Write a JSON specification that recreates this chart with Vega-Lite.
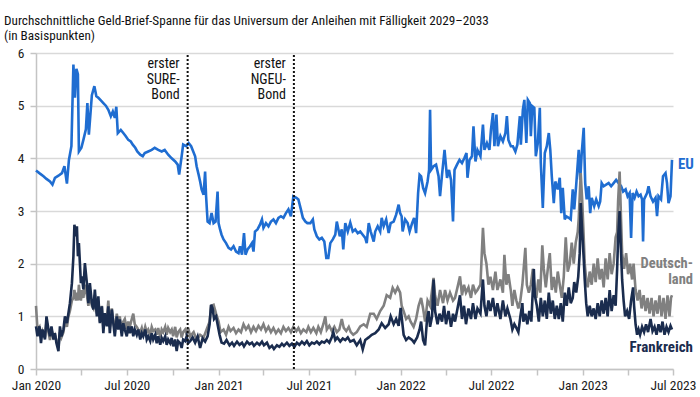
{
"$schema": "https://vega.github.io/schema/vega-lite/v6.json",
"width": 637,
"height": 316,
"autosize": {"type": "none"},
"padding": {"left": 36, "top": 53, "right": 27, "bottom": 28},
"background": "white",
"title": {"text": ["Durchschnittliche Geld-Brief-Spanne für das Universum der Anleihen mit Fälligkeit 2029–2033", "(in Basispunkten)"], "anchor": "start", "frame": "group", "offset": 2.5, "dx": -32, "fontSize": 13.2, "fontWeight": "normal", "lineHeight": 15.5, "color": "#111111", "font": "Roboto Condensed, Liberation Sans Narrow, DejaVu Sans Condensed, sans-serif"},
"config": {"view": {"stroke": null}, "font": "Roboto Condensed, Liberation Sans Narrow, DejaVu Sans Condensed, sans-serif"},
"datasets": {
"eu": [
{"d":"2020-01-01","v":3.77},{"d":"2020-01-09","v":3.71},{"d":"2020-01-16","v":3.66},{"d":"2020-01-22","v":3.61},{"d":"2020-01-29","v":3.56},{"d":"2020-02-03","v":3.50},{"d":"2020-02-08","v":3.63},{"d":"2020-02-15","v":3.67},{"d":"2020-02-22","v":3.72},{"d":"2020-02-27","v":3.85},{"d":"2020-03-03","v":3.52},{"d":"2020-03-07","v":3.97},{"d":"2020-03-12","v":4.23},{"d":"2020-03-16","v":5.78},{"d":"2020-03-19","v":5.15},{"d":"2020-03-22","v":5.70},{"d":"2020-03-25","v":5.60},{"d":"2020-03-27","v":4.13},{"d":"2020-04-01","v":4.20},{"d":"2020-04-05","v":4.35},{"d":"2020-04-10","v":4.55},{"d":"2020-04-13","v":5.05},{"d":"2020-04-16","v":4.45},{"d":"2020-04-22","v":5.20},{"d":"2020-04-27","v":5.37},{"d":"2020-05-01","v":5.18},{"d":"2020-05-05","v":5.15},{"d":"2020-05-10","v":5.10},{"d":"2020-05-15","v":5.05},{"d":"2020-05-20","v":5.00},{"d":"2020-05-25","v":4.92},{"d":"2020-05-30","v":4.80},{"d":"2020-06-03","v":4.89},{"d":"2020-06-07","v":4.77},{"d":"2020-06-10","v":4.98},{"d":"2020-06-13","v":4.48},{"d":"2020-06-19","v":4.54},{"d":"2020-06-24","v":4.48},{"d":"2020-06-29","v":4.42},{"d":"2020-07-04","v":4.35},{"d":"2020-07-09","v":4.32},{"d":"2020-07-13","v":4.26},{"d":"2020-07-18","v":4.20},{"d":"2020-07-22","v":4.13},{"d":"2020-07-28","v":4.07},{"d":"2020-08-02","v":4.04},{"d":"2020-08-06","v":4.10},{"d":"2020-08-13","v":4.13},{"d":"2020-08-20","v":4.16},{"d":"2020-08-26","v":4.20},{"d":"2020-09-02","v":4.16},{"d":"2020-09-09","v":4.13},{"d":"2020-09-15","v":4.16},{"d":"2020-09-22","v":4.07},{"d":"2020-09-29","v":4.00},{"d":"2020-10-06","v":3.94},{"d":"2020-10-11","v":3.88},{"d":"2020-10-14","v":3.69},{"d":"2020-10-19","v":4.04},{"d":"2020-10-22","v":4.26},{"d":"2020-10-28","v":4.23},{"d":"2020-11-02","v":4.29},{"d":"2020-11-07","v":4.23},{"d":"2020-11-10","v":4.16},{"d":"2020-11-15","v":4.04},{"d":"2020-11-18","v":3.85},{"d":"2020-11-22","v":3.69},{"d":"2020-11-25","v":3.56},{"d":"2020-11-28","v":3.41},{"d":"2020-12-02","v":3.31},{"d":"2020-12-05","v":3.75},{"d":"2020-12-07","v":3.28},{"d":"2020-12-10","v":2.80},{"d":"2020-12-14","v":2.77},{"d":"2020-12-18","v":2.96},{"d":"2020-12-22","v":2.77},{"d":"2020-12-26","v":2.80},{"d":"2020-12-30","v":3.37},{"d":"2021-01-01","v":2.77},{"d":"2021-01-04","v":2.65},{"d":"2021-01-07","v":2.55},{"d":"2021-01-11","v":2.46},{"d":"2021-01-16","v":2.39},{"d":"2021-01-21","v":2.30},{"d":"2021-01-26","v":2.27},{"d":"2021-01-31","v":2.33},{"d":"2021-02-05","v":2.23},{"d":"2021-02-10","v":2.20},{"d":"2021-02-13","v":2.33},{"d":"2021-02-17","v":2.17},{"d":"2021-02-21","v":2.58},{"d":"2021-02-24","v":2.17},{"d":"2021-02-28","v":2.27},{"d":"2021-03-05","v":2.33},{"d":"2021-03-09","v":2.39},{"d":"2021-03-12","v":2.23},{"d":"2021-03-15","v":2.61},{"d":"2021-03-20","v":2.65},{"d":"2021-03-25","v":2.74},{"d":"2021-03-29","v":2.84},{"d":"2021-04-01","v":2.68},{"d":"2021-04-06","v":2.77},{"d":"2021-04-11","v":2.71},{"d":"2021-04-16","v":2.80},{"d":"2021-04-21","v":2.84},{"d":"2021-04-26","v":2.77},{"d":"2021-05-01","v":2.87},{"d":"2021-05-06","v":2.90},{"d":"2021-05-11","v":2.87},{"d":"2021-05-16","v":2.96},{"d":"2021-05-21","v":3.03},{"d":"2021-05-26","v":2.90},{"d":"2021-05-31","v":3.28},{"d":"2021-06-06","v":3.25},{"d":"2021-06-10","v":3.22},{"d":"2021-06-15","v":3.03},{"d":"2021-06-19","v":2.87},{"d":"2021-06-24","v":2.80},{"d":"2021-06-28","v":2.77},{"d":"2021-07-04","v":2.77},{"d":"2021-07-09","v":2.84},{"d":"2021-07-12","v":2.65},{"d":"2021-07-17","v":2.52},{"d":"2021-07-22","v":2.46},{"d":"2021-07-27","v":2.49},{"d":"2021-08-01","v":2.42},{"d":"2021-08-05","v":2.11},{"d":"2021-08-09","v":2.11},{"d":"2021-08-13","v":2.39},{"d":"2021-08-18","v":2.46},{"d":"2021-08-23","v":2.55},{"d":"2021-08-26","v":2.80},{"d":"2021-09-01","v":2.52},{"d":"2021-09-05","v":2.65},{"d":"2021-09-08","v":2.27},{"d":"2021-09-12","v":2.77},{"d":"2021-09-17","v":2.61},{"d":"2021-09-22","v":2.78},{"d":"2021-09-27","v":2.61},{"d":"2021-10-02","v":2.65},{"d":"2021-10-07","v":2.58},{"d":"2021-10-12","v":2.61},{"d":"2021-10-17","v":2.55},{"d":"2021-10-22","v":2.49},{"d":"2021-10-25","v":2.39},{"d":"2021-10-29","v":2.77},{"d":"2021-11-02","v":2.61},{"d":"2021-11-08","v":2.42},{"d":"2021-11-11","v":2.61},{"d":"2021-11-16","v":2.71},{"d":"2021-11-21","v":2.61},{"d":"2021-11-24","v":2.87},{"d":"2021-11-28","v":2.71},{"d":"2021-12-03","v":2.84},{"d":"2021-12-08","v":2.58},{"d":"2021-12-12","v":2.77},{"d":"2021-12-18","v":2.80},{"d":"2021-12-23","v":2.93},{"d":"2021-12-28","v":3.12},{"d":"2021-12-31","v":2.96},{"d":"2022-01-03","v":2.90},{"d":"2022-01-05","v":2.61},{"d":"2022-01-10","v":2.84},{"d":"2022-01-15","v":2.77},{"d":"2022-01-19","v":2.61},{"d":"2022-01-24","v":2.77},{"d":"2022-01-28","v":2.87},{"d":"2022-02-01","v":2.58},{"d":"2022-02-05","v":3.34},{"d":"2022-02-08","v":3.69},{"d":"2022-02-11","v":3.66},{"d":"2022-02-15","v":3.44},{"d":"2022-02-19","v":3.34},{"d":"2022-02-24","v":3.56},{"d":"2022-02-27","v":3.78},{"d":"2022-03-01","v":4.92},{"d":"2022-03-03","v":3.78},{"d":"2022-03-08","v":3.85},{"d":"2022-03-13","v":3.88},{"d":"2022-03-18","v":3.66},{"d":"2022-03-21","v":3.28},{"d":"2022-03-25","v":3.69},{"d":"2022-03-30","v":4.16},{"d":"2022-04-04","v":3.63},{"d":"2022-04-08","v":3.78},{"d":"2022-04-12","v":3.59},{"d":"2022-04-16","v":2.80},{"d":"2022-04-19","v":3.78},{"d":"2022-04-24","v":3.88},{"d":"2022-04-29","v":3.97},{"d":"2022-05-04","v":3.91},{"d":"2022-05-09","v":4.01},{"d":"2022-05-13","v":4.10},{"d":"2022-05-15","v":3.63},{"d":"2022-05-19","v":3.97},{"d":"2022-05-24","v":4.04},{"d":"2022-05-27","v":4.61},{"d":"2022-05-31","v":3.94},{"d":"2022-06-04","v":4.16},{"d":"2022-06-10","v":4.04},{"d":"2022-06-15","v":4.64},{"d":"2022-06-18","v":4.16},{"d":"2022-06-23","v":4.29},{"d":"2022-06-28","v":4.16},{"d":"2022-07-01","v":4.54},{"d":"2022-07-05","v":4.86},{"d":"2022-07-08","v":4.23},{"d":"2022-07-12","v":4.83},{"d":"2022-07-15","v":4.23},{"d":"2022-07-20","v":4.42},{"d":"2022-07-25","v":4.32},{"d":"2022-07-30","v":4.48},{"d":"2022-08-02","v":4.80},{"d":"2022-08-05","v":4.35},{"d":"2022-08-10","v":4.23},{"d":"2022-08-14","v":4.23},{"d":"2022-08-19","v":4.13},{"d":"2022-08-23","v":4.26},{"d":"2022-08-28","v":4.80},{"d":"2022-08-30","v":4.26},{"d":"2022-09-03","v":4.92},{"d":"2022-09-06","v":5.11},{"d":"2022-09-10","v":4.29},{"d":"2022-09-13","v":5.11},{"d":"2022-09-17","v":5.05},{"d":"2022-09-19","v":4.42},{"d":"2022-09-22","v":4.99},{"d":"2022-09-26","v":4.96},{"d":"2022-09-29","v":4.04},{"d":"2022-10-03","v":4.29},{"d":"2022-10-07","v":4.96},{"d":"2022-10-09","v":3.91},{"d":"2022-10-13","v":3.06},{"d":"2022-10-17","v":4.10},{"d":"2022-10-21","v":4.23},{"d":"2022-10-25","v":4.48},{"d":"2022-10-28","v":4.16},{"d":"2022-10-31","v":3.66},{"d":"2022-11-04","v":3.15},{"d":"2022-11-07","v":3.56},{"d":"2022-11-12","v":3.41},{"d":"2022-11-16","v":3.63},{"d":"2022-11-19","v":2.96},{"d":"2022-11-22","v":3.44},{"d":"2022-11-26","v":2.84},{"d":"2022-11-29","v":2.90},{"d":"2022-12-04","v":2.87},{"d":"2022-12-08","v":2.84},{"d":"2022-12-12","v":3.41},{"d":"2022-12-15","v":3.03},{"d":"2022-12-19","v":3.50},{"d":"2022-12-24","v":4.16},{"d":"2022-12-27","v":3.59},{"d":"2022-12-30","v":4.10},{"d":"2023-01-03","v":4.58},{"d":"2023-01-06","v":3.53},{"d":"2023-01-09","v":3.22},{"d":"2023-01-13","v":3.47},{"d":"2023-01-16","v":2.96},{"d":"2023-01-19","v":3.25},{"d":"2023-01-24","v":3.09},{"d":"2023-01-28","v":3.22},{"d":"2023-02-02","v":3.09},{"d":"2023-02-05","v":3.18},{"d":"2023-02-08","v":3.53},{"d":"2023-02-12","v":3.47},{"d":"2023-02-17","v":3.50},{"d":"2023-02-22","v":3.53},{"d":"2023-02-27","v":3.47},{"d":"2023-03-04","v":3.53},{"d":"2023-03-09","v":3.59},{"d":"2023-03-14","v":3.53},{"d":"2023-03-19","v":3.47},{"d":"2023-03-23","v":3.37},{"d":"2023-03-28","v":3.41},{"d":"2023-04-01","v":3.28},{"d":"2023-04-05","v":3.34},{"d":"2023-04-08","v":2.49},{"d":"2023-04-11","v":3.34},{"d":"2023-04-15","v":3.25},{"d":"2023-04-19","v":3.37},{"d":"2023-04-23","v":3.28},{"d":"2023-04-27","v":3.31},{"d":"2023-04-30","v":3.22},{"d":"2023-05-02","v":2.42},{"d":"2023-05-04","v":3.22},{"d":"2023-05-10","v":3.34},{"d":"2023-05-13","v":3.47},{"d":"2023-05-17","v":3.28},{"d":"2023-05-22","v":3.18},{"d":"2023-05-27","v":3.25},{"d":"2023-05-30","v":2.90},{"d":"2023-06-02","v":3.28},{"d":"2023-06-07","v":3.22},{"d":"2023-06-11","v":3.66},{"d":"2023-06-16","v":3.72},{"d":"2023-06-19","v":3.53},{"d":"2023-06-22","v":3.15},{"d":"2023-06-26","v":3.28},{"d":"2023-06-29","v":3.97}
],
"de": [
{"d":"2020-01-01","v":1.20},{"d":"2020-01-04","v":0.75},{"d":"2020-01-08","v":0.80},{"d":"2020-01-11","v":0.60},{"d":"2020-01-14","v":0.72},{"d":"2020-01-19","v":0.60},{"d":"2020-01-22","v":0.90},{"d":"2020-01-26","v":0.70},{"d":"2020-01-29","v":0.55},{"d":"2020-02-01","v":0.75},{"d":"2020-02-05","v":0.60},{"d":"2020-02-08","v":0.65},{"d":"2020-02-11","v":0.55},{"d":"2020-02-15","v":0.40},{"d":"2020-02-18","v":0.70},{"d":"2020-02-21","v":0.60},{"d":"2020-02-25","v":0.70},{"d":"2020-02-28","v":0.90},{"d":"2020-03-03","v":0.80},{"d":"2020-03-06","v":1.00},{"d":"2020-03-09","v":1.10},{"d":"2020-03-13","v":1.30},{"d":"2020-03-16","v":1.35},{"d":"2020-03-18","v":1.50},{"d":"2020-03-21","v":1.30},{"d":"2020-03-23","v":1.45},{"d":"2020-03-25","v":1.30},{"d":"2020-03-27","v":1.60},{"d":"2020-03-29","v":1.40},{"d":"2020-03-31","v":1.30},{"d":"2020-04-02","v":1.50},{"d":"2020-04-05","v":1.35},{"d":"2020-04-08","v":1.60},{"d":"2020-04-12","v":1.40},{"d":"2020-04-15","v":1.20},{"d":"2020-04-18","v":1.45},{"d":"2020-04-22","v":1.20},{"d":"2020-04-25","v":1.15},{"d":"2020-04-28","v":1.40},{"d":"2020-05-02","v":1.05},{"d":"2020-05-05","v":1.30},{"d":"2020-05-08","v":0.90},{"d":"2020-05-12","v":1.20},{"d":"2020-05-15","v":0.80},{"d":"2020-05-18","v":1.00},{"d":"2020-05-22","v":0.95},{"d":"2020-05-25","v":1.30},{"d":"2020-05-28","v":0.80},{"d":"2020-06-01","v":1.15},{"d":"2020-06-04","v":0.90},{"d":"2020-06-07","v":0.75},{"d":"2020-06-11","v":1.05},{"d":"2020-06-14","v":0.85},{"d":"2020-06-17","v":1.00},{"d":"2020-06-21","v":0.70},{"d":"2020-06-24","v":0.90},{"d":"2020-06-27","v":0.95},{"d":"2020-07-01","v":0.75},{"d":"2020-07-04","v":0.90},{"d":"2020-07-07","v":0.80},{"d":"2020-07-11","v":0.95},{"d":"2020-07-14","v":1.05},{"d":"2020-07-17","v":0.85},{"d":"2020-07-21","v":0.80},{"d":"2020-07-24","v":0.75},{"d":"2020-07-28","v":0.70},{"d":"2020-07-31","v":0.78},{"d":"2020-08-03","v":0.65},{"d":"2020-08-07","v":0.80},{"d":"2020-08-10","v":0.70},{"d":"2020-08-13","v":0.75},{"d":"2020-08-17","v":0.65},{"d":"2020-08-20","v":0.80},{"d":"2020-08-23","v":0.72},{"d":"2020-08-27","v":0.75},{"d":"2020-08-30","v":0.65},{"d":"2020-09-02","v":0.78},{"d":"2020-09-06","v":0.60},{"d":"2020-09-09","v":0.75},{"d":"2020-09-12","v":0.70},{"d":"2020-09-16","v":0.80},{"d":"2020-09-19","v":0.65},{"d":"2020-09-22","v":0.78},{"d":"2020-09-26","v":0.70},{"d":"2020-09-29","v":0.75},{"d":"2020-10-02","v":0.62},{"d":"2020-10-06","v":0.80},{"d":"2020-10-09","v":0.60},{"d":"2020-10-12","v":0.70},{"d":"2020-10-16","v":0.75},{"d":"2020-10-19","v":0.60},{"d":"2020-10-22","v":0.70},{"d":"2020-10-26","v":0.75},{"d":"2020-10-29","v":0.65},{"d":"2020-11-01","v":0.78},{"d":"2020-11-05","v":0.62},{"d":"2020-11-12","v":0.70},{"d":"2020-11-18","v":0.55},{"d":"2020-11-25","v":0.65},{"d":"2020-12-02","v":0.60},{"d":"2020-12-08","v":0.75},{"d":"2020-12-14","v":0.90},{"d":"2020-12-17","v":1.20},{"d":"2020-12-22","v":1.22},{"d":"2020-12-27","v":1.05},{"d":"2021-01-01","v":0.90},{"d":"2021-01-05","v":0.70},{"d":"2021-01-11","v":0.75},{"d":"2021-01-16","v":0.65},{"d":"2021-01-21","v":0.80},{"d":"2021-01-25","v":0.72},{"d":"2021-01-31","v":0.78},{"d":"2021-02-05","v":0.68},{"d":"2021-02-10","v":0.75},{"d":"2021-02-15","v":0.70},{"d":"2021-02-20","v":0.85},{"d":"2021-02-25","v":0.75},{"d":"2021-03-02","v":0.82},{"d":"2021-03-07","v":0.70},{"d":"2021-03-12","v":0.80},{"d":"2021-03-17","v":0.72},{"d":"2021-03-22","v":0.82},{"d":"2021-03-27","v":0.75},{"d":"2021-04-01","v":0.85},{"d":"2021-04-06","v":0.72},{"d":"2021-04-11","v":0.80},{"d":"2021-04-16","v":0.70},{"d":"2021-04-21","v":0.78},{"d":"2021-04-26","v":0.68},{"d":"2021-05-01","v":0.75},{"d":"2021-05-06","v":0.68},{"d":"2021-05-11","v":0.80},{"d":"2021-05-16","v":0.72},{"d":"2021-05-21","v":0.78},{"d":"2021-05-26","v":0.70},{"d":"2021-05-31","v":0.80},{"d":"2021-06-06","v":0.72},{"d":"2021-06-10","v":0.78},{"d":"2021-06-15","v":0.68},{"d":"2021-06-20","v":0.75},{"d":"2021-06-26","v":0.70},{"d":"2021-06-30","v":0.80},{"d":"2021-07-05","v":0.70},{"d":"2021-07-10","v":0.78},{"d":"2021-07-16","v":0.68},{"d":"2021-07-20","v":0.80},{"d":"2021-07-25","v":0.70},{"d":"2021-07-30","v":0.85},{"d":"2021-08-03","v":1.00},{"d":"2021-08-06","v":0.75},{"d":"2021-08-11","v":0.82},{"d":"2021-08-16","v":0.72},{"d":"2021-08-21","v":0.80},{"d":"2021-08-26","v":0.70},{"d":"2021-08-31","v":0.75},{"d":"2021-09-05","v":0.95},{"d":"2021-09-09","v":0.78},{"d":"2021-09-14","v":0.72},{"d":"2021-09-19","v":0.80},{"d":"2021-09-23","v":0.70},{"d":"2021-09-28","v":0.65},{"d":"2021-10-05","v":0.70},{"d":"2021-10-12","v":0.81},{"d":"2021-10-19","v":0.85},{"d":"2021-10-25","v":0.80},{"d":"2021-11-01","v":1.05},{"d":"2021-11-08","v":1.05},{"d":"2021-11-14","v":0.95},{"d":"2021-11-21","v":1.10},{"d":"2021-11-28","v":1.20},{"d":"2021-12-04","v":1.40},{"d":"2021-12-11","v":1.35},{"d":"2021-12-16","v":1.54},{"d":"2021-12-21","v":1.45},{"d":"2021-12-26","v":1.55},{"d":"2021-12-31","v":1.45},{"d":"2022-01-03","v":1.20},{"d":"2022-01-07","v":1.10},{"d":"2022-01-12","v":0.95},{"d":"2022-01-17","v":1.00},{"d":"2022-01-21","v":0.90},{"d":"2022-01-27","v":0.80},{"d":"2022-02-01","v":0.95},{"d":"2022-02-06","v":1.20},{"d":"2022-02-11","v":1.35},{"d":"2022-02-15","v":1.15},{"d":"2022-02-19","v":0.90},{"d":"2022-02-24","v":1.30},{"d":"2022-03-01","v":1.20},{"d":"2022-03-08","v":1.73},{"d":"2022-03-11","v":1.40},{"d":"2022-03-16","v":1.20},{"d":"2022-03-21","v":1.50},{"d":"2022-03-27","v":1.25},{"d":"2022-03-31","v":1.50},{"d":"2022-04-05","v":1.30},{"d":"2022-04-10","v":1.45},{"d":"2022-04-16","v":1.30},{"d":"2022-04-20","v":1.35},{"d":"2022-04-25","v":1.55},{"d":"2022-04-30","v":1.76},{"d":"2022-05-04","v":1.40},{"d":"2022-05-08","v":1.60},{"d":"2022-05-12","v":1.45},{"d":"2022-05-17","v":1.55},{"d":"2022-05-22","v":1.35},{"d":"2022-05-26","v":1.60},{"d":"2022-05-31","v":1.45},{"d":"2022-06-04","v":1.50},{"d":"2022-06-10","v":1.60},{"d":"2022-06-15","v":2.68},{"d":"2022-06-18","v":2.20},{"d":"2022-06-22","v":2.00},{"d":"2022-06-26","v":1.60},{"d":"2022-06-30","v":1.75},{"d":"2022-07-05","v":1.50},{"d":"2022-07-10","v":1.85},{"d":"2022-07-14","v":1.50},{"d":"2022-07-20","v":1.70},{"d":"2022-07-25","v":1.45},{"d":"2022-07-28","v":2.17},{"d":"2022-08-01","v":1.60},{"d":"2022-08-05","v":1.80},{"d":"2022-08-10","v":1.48},{"d":"2022-08-13","v":1.20},{"d":"2022-08-17","v":1.50},{"d":"2022-08-21","v":1.30},{"d":"2022-08-25","v":1.15},{"d":"2022-08-29","v":1.30},{"d":"2022-09-02","v":1.60},{"d":"2022-09-08","v":2.30},{"d":"2022-09-11","v":1.60},{"d":"2022-09-15","v":1.45},{"d":"2022-09-19","v":1.60},{"d":"2022-09-23","v":1.90},{"d":"2022-09-26","v":1.55},{"d":"2022-09-30","v":1.35},{"d":"2022-10-04","v":1.70},{"d":"2022-10-08","v":1.45},{"d":"2022-10-12","v":2.35},{"d":"2022-10-15","v":1.90},{"d":"2022-10-19","v":1.55},{"d":"2022-10-23","v":1.90},{"d":"2022-10-27","v":2.20},{"d":"2022-10-31","v":1.50},{"d":"2022-11-04","v":1.75},{"d":"2022-11-08","v":1.45},{"d":"2022-11-12","v":1.85},{"d":"2022-11-16","v":1.60},{"d":"2022-11-20","v":1.35},{"d":"2022-11-24","v":1.75},{"d":"2022-11-28","v":2.50},{"d":"2022-12-02","v":1.85},{"d":"2022-12-06","v":2.00},{"d":"2022-12-10","v":2.40},{"d":"2022-12-14","v":2.00},{"d":"2022-12-18","v":2.40},{"d":"2022-12-22","v":2.60},{"d":"2022-12-24","v":2.85},{"d":"2022-12-28","v":3.72},{"d":"2022-12-31","v":3.20},{"d":"2023-01-03","v":2.50},{"d":"2023-01-05","v":2.00},{"d":"2023-01-08","v":1.70},{"d":"2023-01-11","v":1.55},{"d":"2023-01-15","v":1.85},{"d":"2023-01-19","v":1.60},{"d":"2023-01-23","v":2.00},{"d":"2023-01-27","v":1.65},{"d":"2023-01-31","v":2.10},{"d":"2023-02-04","v":1.70},{"d":"2023-02-08","v":1.90},{"d":"2023-02-12","v":1.55},{"d":"2023-02-16","v":2.10},{"d":"2023-02-20","v":1.70},{"d":"2023-02-24","v":2.20},{"d":"2023-02-28","v":1.80},{"d":"2023-03-04","v":2.00},{"d":"2023-03-08","v":2.50},{"d":"2023-03-11","v":2.60},{"d":"2023-03-13","v":3.20},{"d":"2023-03-16","v":3.75},{"d":"2023-03-19","v":2.80},{"d":"2023-03-21","v":2.20},{"d":"2023-03-25","v":1.90},{"d":"2023-03-29","v":2.20},{"d":"2023-04-02","v":1.80},{"d":"2023-04-06","v":2.00},{"d":"2023-04-10","v":1.70},{"d":"2023-04-13","v":2.00},{"d":"2023-04-17","v":1.50},{"d":"2023-04-21","v":1.30},{"d":"2023-04-25","v":1.50},{"d":"2023-04-29","v":1.15},{"d":"2023-05-03","v":1.40},{"d":"2023-05-07","v":1.10},{"d":"2023-05-11","v":1.35},{"d":"2023-05-15","v":1.05},{"d":"2023-05-19","v":1.35},{"d":"2023-05-23","v":1.00},{"d":"2023-05-27","v":1.30},{"d":"2023-05-31","v":1.05},{"d":"2023-06-04","v":1.40},{"d":"2023-06-08","v":1.00},{"d":"2023-06-12","v":1.35},{"d":"2023-06-16","v":0.95},{"d":"2023-06-20","v":1.40},{"d":"2023-06-24","v":1.00},{"d":"2023-06-27","v":1.35},{"d":"2023-06-29","v":1.40}
],
"fr": [
{"d":"2020-01-01","v":0.81},{"d":"2020-01-04","v":0.62},{"d":"2020-01-08","v":0.81},{"d":"2020-01-11","v":0.49},{"d":"2020-01-14","v":0.75},{"d":"2020-01-19","v":0.56},{"d":"2020-01-22","v":1.00},{"d":"2020-01-26","v":0.75},{"d":"2020-01-29","v":0.62},{"d":"2020-02-01","v":0.81},{"d":"2020-02-05","v":0.56},{"d":"2020-02-08","v":0.68},{"d":"2020-02-11","v":0.49},{"d":"2020-02-15","v":0.34},{"d":"2020-02-18","v":0.81},{"d":"2020-02-21","v":0.62},{"d":"2020-02-25","v":0.75},{"d":"2020-02-28","v":1.00},{"d":"2020-03-03","v":0.87},{"d":"2020-03-06","v":1.06},{"d":"2020-03-09","v":1.25},{"d":"2020-03-13","v":1.63},{"d":"2020-03-16","v":2.14},{"d":"2020-03-18","v":2.74},{"d":"2020-03-21","v":2.52},{"d":"2020-03-23","v":2.71},{"d":"2020-03-25","v":2.14},{"d":"2020-03-27","v":2.39},{"d":"2020-03-29","v":2.01},{"d":"2020-03-31","v":1.63},{"d":"2020-04-02","v":1.76},{"d":"2020-04-05","v":1.51},{"d":"2020-04-08","v":2.01},{"d":"2020-04-12","v":1.63},{"d":"2020-04-15","v":1.25},{"d":"2020-04-18","v":1.63},{"d":"2020-04-22","v":1.25},{"d":"2020-04-25","v":1.13},{"d":"2020-04-28","v":1.51},{"d":"2020-05-02","v":1.00},{"d":"2020-05-05","v":1.38},{"d":"2020-05-08","v":0.87},{"d":"2020-05-12","v":1.19},{"d":"2020-05-15","v":0.68},{"d":"2020-05-18","v":1.06},{"d":"2020-05-22","v":0.81},{"d":"2020-05-25","v":1.19},{"d":"2020-05-28","v":0.68},{"d":"2020-06-01","v":1.13},{"d":"2020-06-04","v":0.87},{"d":"2020-06-07","v":0.62},{"d":"2020-06-11","v":1.00},{"d":"2020-06-14","v":0.75},{"d":"2020-06-17","v":0.94},{"d":"2020-06-21","v":0.62},{"d":"2020-06-24","v":0.87},{"d":"2020-06-27","v":0.75},{"d":"2020-07-01","v":0.62},{"d":"2020-07-04","v":0.81},{"d":"2020-07-07","v":0.68},{"d":"2020-07-11","v":0.81},{"d":"2020-07-14","v":0.62},{"d":"2020-07-17","v":0.75},{"d":"2020-07-21","v":0.65},{"d":"2020-07-24","v":0.75},{"d":"2020-07-28","v":0.56},{"d":"2020-07-31","v":0.68},{"d":"2020-08-03","v":0.62},{"d":"2020-08-07","v":0.75},{"d":"2020-08-10","v":0.56},{"d":"2020-08-13","v":0.62},{"d":"2020-08-17","v":0.53},{"d":"2020-08-20","v":0.68},{"d":"2020-08-23","v":0.56},{"d":"2020-08-27","v":0.65},{"d":"2020-08-30","v":0.49},{"d":"2020-09-02","v":0.62},{"d":"2020-09-06","v":0.46},{"d":"2020-09-09","v":0.59},{"d":"2020-09-12","v":0.53},{"d":"2020-09-16","v":0.62},{"d":"2020-09-19","v":0.46},{"d":"2020-09-22","v":0.56},{"d":"2020-09-26","v":0.49},{"d":"2020-09-29","v":0.59},{"d":"2020-10-02","v":0.43},{"d":"2020-10-06","v":0.56},{"d":"2020-10-09","v":0.34},{"d":"2020-10-12","v":0.53},{"d":"2020-10-16","v":0.49},{"d":"2020-10-19","v":0.40},{"d":"2020-10-22","v":0.56},{"d":"2020-10-26","v":0.53},{"d":"2020-10-29","v":0.62},{"d":"2020-11-01","v":0.49},{"d":"2020-11-05","v":0.53},{"d":"2020-11-10","v":0.60},{"d":"2020-11-15","v":0.50},{"d":"2020-11-20","v":0.62},{"d":"2020-11-25","v":0.40},{"d":"2020-11-30","v":0.58},{"d":"2020-12-05","v":0.52},{"d":"2020-12-10","v":0.62},{"d":"2020-12-14","v":0.85},{"d":"2020-12-17","v":1.22},{"d":"2020-12-20","v":1.15},{"d":"2020-12-23","v":0.95},{"d":"2020-12-27","v":1.00},{"d":"2020-12-30","v":0.85},{"d":"2021-01-03","v":0.65},{"d":"2021-01-07","v":0.50},{"d":"2021-01-12","v":0.48},{"d":"2021-01-17","v":0.55},{"d":"2021-01-23","v":0.45},{"d":"2021-01-28","v":0.50},{"d":"2021-02-01","v":0.44},{"d":"2021-02-07","v":0.52},{"d":"2021-02-12","v":0.46},{"d":"2021-02-17","v":0.50},{"d":"2021-02-21","v":0.43},{"d":"2021-02-27","v":0.52},{"d":"2021-03-04","v":0.47},{"d":"2021-03-09","v":0.50},{"d":"2021-03-13","v":0.44},{"d":"2021-03-19","v":0.50},{"d":"2021-03-24","v":0.46},{"d":"2021-03-29","v":0.52},{"d":"2021-04-02","v":0.45},{"d":"2021-04-08","v":0.50},{"d":"2021-04-13","v":0.40},{"d":"2021-04-18","v":0.44},{"d":"2021-04-22","v":0.38},{"d":"2021-04-28","v":0.45},{"d":"2021-05-03","v":0.42},{"d":"2021-05-08","v":0.48},{"d":"2021-05-12","v":0.44},{"d":"2021-05-18","v":0.50},{"d":"2021-05-23","v":0.44},{"d":"2021-05-28","v":0.48},{"d":"2021-06-02","v":0.42},{"d":"2021-06-07","v":0.50},{"d":"2021-06-12","v":0.46},{"d":"2021-06-17","v":0.52},{"d":"2021-06-22","v":0.47},{"d":"2021-06-27","v":0.53},{"d":"2021-07-02","v":0.45},{"d":"2021-07-07","v":0.50},{"d":"2021-07-12","v":0.48},{"d":"2021-07-17","v":0.52},{"d":"2021-07-22","v":0.47},{"d":"2021-07-27","v":0.52},{"d":"2021-08-01","v":0.50},{"d":"2021-08-06","v":0.55},{"d":"2021-08-11","v":0.50},{"d":"2021-08-16","v":0.60},{"d":"2021-08-19","v":0.70},{"d":"2021-08-23","v":0.55},{"d":"2021-08-27","v":0.60},{"d":"2021-09-02","v":0.52},{"d":"2021-09-07","v":0.58},{"d":"2021-09-12","v":0.55},{"d":"2021-09-17","v":0.60},{"d":"2021-09-22","v":0.52},{"d":"2021-09-29","v":0.55},{"d":"2021-10-05","v":0.45},{"d":"2021-10-12","v":0.55},{"d":"2021-10-17","v":0.37},{"d":"2021-10-22","v":0.55},{"d":"2021-10-29","v":0.60},{"d":"2021-11-04","v":0.65},{"d":"2021-11-11","v":0.68},{"d":"2021-11-18","v":0.75},{"d":"2021-11-24","v":0.87},{"d":"2021-12-01","v":0.78},{"d":"2021-12-08","v":0.85},{"d":"2021-12-12","v":1.00},{"d":"2021-12-18","v":0.85},{"d":"2021-12-23","v":0.95},{"d":"2021-12-28","v":0.82},{"d":"2022-01-01","v":1.16},{"d":"2022-01-07","v":0.65},{"d":"2022-01-12","v":0.55},{"d":"2022-01-17","v":0.60},{"d":"2022-01-24","v":0.55},{"d":"2022-01-28","v":0.50},{"d":"2022-02-03","v":0.60},{"d":"2022-02-08","v":0.75},{"d":"2022-02-11","v":0.90},{"d":"2022-02-15","v":0.55},{"d":"2022-02-19","v":0.45},{"d":"2022-02-23","v":0.95},{"d":"2022-02-26","v":1.10},{"d":"2022-03-01","v":0.80},{"d":"2022-03-05","v":1.00},{"d":"2022-03-08","v":1.70},{"d":"2022-03-11","v":1.10},{"d":"2022-03-16","v":0.85},{"d":"2022-03-20","v":1.05},{"d":"2022-03-25","v":0.90},{"d":"2022-03-29","v":1.20},{"d":"2022-04-02","v":0.85},{"d":"2022-04-07","v":1.10},{"d":"2022-04-12","v":0.80},{"d":"2022-04-16","v":1.05},{"d":"2022-04-20","v":0.90},{"d":"2022-04-25","v":1.15},{"d":"2022-04-30","v":1.40},{"d":"2022-05-04","v":0.95},{"d":"2022-05-08","v":1.20},{"d":"2022-05-12","v":0.85},{"d":"2022-05-17","v":1.15},{"d":"2022-05-22","v":0.95},{"d":"2022-05-26","v":1.25},{"d":"2022-05-31","v":0.95},{"d":"2022-06-04","v":1.15},{"d":"2022-06-10","v":1.05},{"d":"2022-06-15","v":1.70},{"d":"2022-06-18","v":1.20},{"d":"2022-06-22","v":1.00},{"d":"2022-06-26","v":1.30},{"d":"2022-06-30","v":1.10},{"d":"2022-07-05","v":1.35},{"d":"2022-07-10","v":1.00},{"d":"2022-07-14","v":1.25},{"d":"2022-07-20","v":0.95},{"d":"2022-07-25","v":1.30},{"d":"2022-07-30","v":1.00},{"d":"2022-08-03","v":1.15},{"d":"2022-08-09","v":0.95},{"d":"2022-08-13","v":0.75},{"d":"2022-08-17","v":0.85},{"d":"2022-08-21","v":0.78},{"d":"2022-08-25","v":0.70},{"d":"2022-08-29","v":1.00},{"d":"2022-09-02","v":1.25},{"d":"2022-09-04","v":0.90},{"d":"2022-09-08","v":1.05},{"d":"2022-09-12","v":0.85},{"d":"2022-09-16","v":1.10},{"d":"2022-09-20","v":0.90},{"d":"2022-09-25","v":1.90},{"d":"2022-09-27","v":1.40},{"d":"2022-10-01","v":1.20},{"d":"2022-10-05","v":0.90},{"d":"2022-10-09","v":1.35},{"d":"2022-10-13","v":1.00},{"d":"2022-10-17","v":1.30},{"d":"2022-10-21","v":0.95},{"d":"2022-10-25","v":1.45},{"d":"2022-10-29","v":1.05},{"d":"2022-11-02","v":1.30},{"d":"2022-11-06","v":0.95},{"d":"2022-11-10","v":1.20},{"d":"2022-11-14","v":0.95},{"d":"2022-11-18","v":1.25},{"d":"2022-11-22","v":0.90},{"d":"2022-11-26","v":1.45},{"d":"2022-11-30","v":1.20},{"d":"2022-12-04","v":1.55},{"d":"2022-12-08","v":1.25},{"d":"2022-12-12","v":1.35},{"d":"2022-12-15","v":1.65},{"d":"2022-12-19","v":1.45},{"d":"2022-12-23","v":1.75},{"d":"2022-12-26","v":2.20},{"d":"2022-12-28","v":3.15},{"d":"2022-12-31","v":2.60},{"d":"2023-01-03","v":2.10},{"d":"2023-01-05","v":1.70},{"d":"2023-01-08","v":1.25},{"d":"2023-01-11","v":1.00},{"d":"2023-01-15","v":1.20},{"d":"2023-01-19","v":1.00},{"d":"2023-01-23","v":1.15},{"d":"2023-01-27","v":0.95},{"d":"2023-01-31","v":1.25},{"d":"2023-02-04","v":1.00},{"d":"2023-02-08","v":1.30},{"d":"2023-02-12","v":1.05},{"d":"2023-02-16","v":1.35},{"d":"2023-02-20","v":1.00},{"d":"2023-02-24","v":1.50},{"d":"2023-02-28","v":1.10},{"d":"2023-03-04","v":1.40},{"d":"2023-03-08","v":1.20},{"d":"2023-03-11","v":1.90},{"d":"2023-03-13","v":2.50},{"d":"2023-03-16","v":3.00},{"d":"2023-03-18","v":2.40},{"d":"2023-03-21","v":1.70},{"d":"2023-03-24","v":1.30},{"d":"2023-03-27","v":1.00},{"d":"2023-03-31","v":1.10},{"d":"2023-04-04","v":0.95},{"d":"2023-04-08","v":1.30},{"d":"2023-04-12","v":1.55},{"d":"2023-04-14","v":1.20},{"d":"2023-04-17","v":0.85},{"d":"2023-04-20","v":0.65},{"d":"2023-04-23","v":0.75},{"d":"2023-04-26","v":0.65},{"d":"2023-04-30","v":0.80},{"d":"2023-05-04","v":0.70},{"d":"2023-05-08","v":0.85},{"d":"2023-05-12","v":0.70},{"d":"2023-05-17","v":0.95},{"d":"2023-05-21","v":0.72},{"d":"2023-05-25","v":0.80},{"d":"2023-05-29","v":0.65},{"d":"2023-06-02","v":0.85},{"d":"2023-06-06","v":0.70},{"d":"2023-06-10","v":0.90},{"d":"2023-06-14","v":0.65},{"d":"2023-06-18","v":0.80},{"d":"2023-06-22","v":0.70},{"d":"2023-06-26","v":0.82},{"d":"2023-06-29","v":0.75}
]
},
"layer": [
{"data": {"name": "eu"}, "mark": {"type": "line", "color": "#1f6dd1", "strokeWidth": 2.6},
 "encoding": {
  "x": {"field": "d", "type": "temporal", "title": null,
        "scale": {"domain": [{"year": 2020, "month": 1, "date": 1}, {"year": 2023, "month": 7, "date": 1}]},
        "axis": {"format": "%b %Y", "tickCount": {"interval": "month", "step": 3}, "labelExpr": "month(datum.value) % 6 == 0 ? datum.label : ''", "grid": false, "domainColor": "#c4c4c4", "domainWidth": 1.5, "tickColor": "#c4c4c4", "tickWidth": 1.5, "tickSize": 6, "labelFontSize": 13.5, "labelColor": "#1a1a1a", "labelPadding": 3, "labelFlush": false, "labelOverlap": false, "labelBound": false}},
  "y": {"field": "v", "type": "quantitative", "title": null,
        "scale": {"domain": [0, 6], "nice": false},
        "axis": {"values": [0, 1, 2, 3, 4, 5, 6], "grid": true, "gridColor": "#d9d9d9", "gridWidth": 1.5, "domainColor": "#c4c4c4", "domainWidth": 1.5, "tickColor": "#c4c4c4", "tickWidth": 1.5, "tickSize": 6, "labelFontSize": 13.5, "labelColor": "#1a1a1a", "labelPadding": 6}}
 }},
{"data": {"name": "de"}, "mark": {"type": "line", "color": "#808080", "strokeWidth": 2.6},
 "encoding": {"x": {"field": "d", "type": "temporal", "title": null}, "y": {"field": "v", "type": "quantitative", "title": null}}},
{"data": {"name": "fr"}, "mark": {"type": "line", "color": "#1a2c4e", "strokeWidth": 2.6},
 "encoding": {"x": {"field": "d", "type": "temporal", "title": null}, "y": {"field": "v", "type": "quantitative", "title": null}}},
{"data": {"values": [{}]}, "mark": {"type": "rule", "color": "#111111", "strokeWidth": 2, "strokeDash": [2, 2]},
 "encoding": {"x": {"datum": {"year": 2020, "month": 10, "date": 31}, "type": "temporal"}, "y": {"datum": 0}, "y2": {"datum": 6}}},
{"data": {"values": [{}]}, "mark": {"type": "rule", "color": "#111111", "strokeWidth": 2, "strokeDash": [2, 2]},
 "encoding": {"x": {"datum": {"year": 2021, "month": 6, "date": 1}, "type": "temporal"}, "y": {"datum": 0}, "y2": {"datum": 6}}},
{"data": {"values": [{}]}, "mark": {"type": "text", "text": "erster|SURE-|Bond", "lineBreak": "|", "align": "right", "baseline": "top", "dx": -8, "dy": 4, "fontSize": 14, "lineHeight": 15.5, "color": "#111111"},
 "encoding": {"x": {"datum": {"year": 2020, "month": 10, "date": 31}, "type": "temporal"}, "y": {"datum": 6}}},
{"data": {"values": [{}]}, "mark": {"type": "text", "text": "erster|NGEU-|Bond", "lineBreak": "|", "align": "right", "baseline": "top", "dx": -8, "dy": 4, "fontSize": 14, "lineHeight": 15.5, "color": "#111111"},
 "encoding": {"x": {"datum": {"year": 2021, "month": 6, "date": 1}, "type": "temporal"}, "y": {"datum": 6}}},
{"data": {"values": [{}]}, "mark": {"type": "text", "text": "EU", "align": "left", "baseline": "middle", "fontSize": 15, "fontWeight": "bold", "color": "#1f6dd1"},
 "encoding": {"x": {"datum": {"year": 2023, "month": 7, "date": 11}, "type": "temporal"}, "y": {"datum": 3.9}}},
{"data": {"values": [{}]}, "mark": {"type": "text", "text": "Deutsch-|land", "lineBreak": "|", "align": "right", "baseline": "middle", "fontSize": 14.5, "lineHeight": 16.5, "fontWeight": "bold", "color": "#808080"},
 "encoding": {"x": {"datum": {"year": 2023, "month": 8, "date": 10}, "type": "temporal"}, "y": {"datum": 2.0}}},
{"data": {"values": [{}]}, "mark": {"type": "text", "text": "Frankreich", "align": "right", "baseline": "middle", "fontSize": 15, "fontWeight": "bold", "color": "#1a2c4e"},
 "encoding": {"x": {"datum": {"year": 2023, "month": 8, "date": 10}, "type": "temporal"}, "y": {"datum": 0.41}}}
]
}
